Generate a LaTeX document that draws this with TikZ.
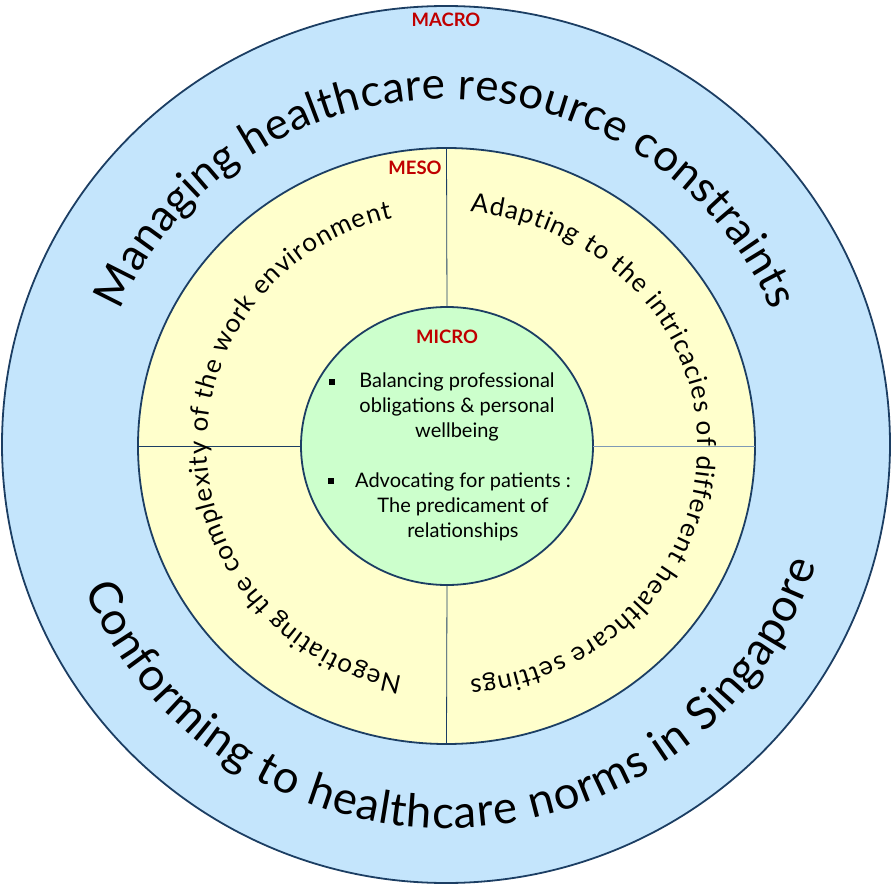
\documentclass[tikz,border=0pt]{standalone}
\usepackage{fontspec}
\setmainfont{Lato}
\usetikzlibrary{shapes.geometric,decorations.text}
\definecolor{outerfill}{HTML}{C4E5FC}
\definecolor{midfill}{HTML}{FFFFCC}
\definecolor{innerfill}{HTML}{CCFFCC}
\definecolor{rim}{HTML}{1C3E63}
\definecolor{lbl}{HTML}{C00000}
\definecolor{divlight}{HTML}{7F9AB5}
\newcommand\bigringfont{\fontsize{44}{44}\selectfont}
\newcommand\lowringfont{\fontsize{45.5}{45.5}\selectfont}
\newcommand\midringfont{\fontsize{26}{26}\selectfont}
\begin{document}
\begin{tikzpicture}[x=1pt,y=1pt,
  ring/.style={ellipse, draw=rim, line width=1.8pt, inner sep=0pt, outer sep=0pt},
  divider/.style={draw=rim, line width=0.8pt},
  levellabel/.style={text=lbl, font=\fontsize{18.5}{18.5}\selectfont\bfseries, inner sep=0pt},
  bodytext/.style={align=center, font=\fontsize{20}{25}\selectfont, inner sep=0pt},
  bulletmark/.style={fill=black, minimum size=6pt, inner sep=0pt}]
\useasboundingbox (-446,-440) rectangle (447,446);
\node[ring, fill=outerfill, minimum width=888pt, minimum height=877pt] (macro) at (0,1.5) {};
\node[ring, fill=midfill, minimum width=617pt, minimum height=596pt] (meso) at (0.5,0) {};
\node[ring, fill=innerfill, minimum width=292pt, minimum height=278pt] (micro) at (1,0) {};
\draw[divider] (meso.north) -- (micro.north);
\draw[divider] (meso.south) -- (micro.south);
\draw[divider] (meso.west) -- (micro.west);
\draw[divider, draw=divlight] (meso.east) -- (micro.east);
% level labels
\node[levellabel] (lmacro) at (0,426) {MACRO};
\node[levellabel] (lmeso) at (-31,278) {MESO};
\node[levellabel] (lmicro) at (1,109) {MICRO};
% outer ring texts
\path[decorate, decoration={text along path, text align=fit to path,
  text={|\bigringfont|Managing healthcare resource constraints}}]
  (157:354pt and 347pt) arc[start angle=157, end angle=23, x radius=354pt, y radius=347pt];
\path[decorate, decoration={text along path, text align=fit to path,
  text={|\lowringfont|Conforming to healthcare norms in Singapore}}]
  (202:390pt and 382pt) arc[start angle=202, end angle=342, x radius=390pt, y radius=382pt];
% middle ring texts
\path[decorate, decoration={text along path, text align=fit to path,
  text={|\midringfont|Negotiating the complexity of the work environment}}]
  (259.5:239pt and 234pt) arc[start angle=259.5, end angle=103, x radius=239pt, y radius=234pt];
\path[decorate, decoration={text along path, text align=fit to path,
  text={|\midringfont|Adapting to the intricacies of different healthcare settings}}]
  (84.5:252pt and 235pt) arc[start angle=84.5, end angle=-84.5, x radius=252pt, y radius=235pt];
% inner text
\node[bulletmark] (b1) at (-114,64) {};
\node[bodytext] (t1) at (11,39) {Balancing professional\\obligations \& personal\\wellbeing};
\node[bulletmark] (b2) at (-115,-35) {};
\node[bodytext] (t2) at (17,-61) {Advocating for patients :\\The predicament of\\relationships};
\end{tikzpicture}
\end{document}
